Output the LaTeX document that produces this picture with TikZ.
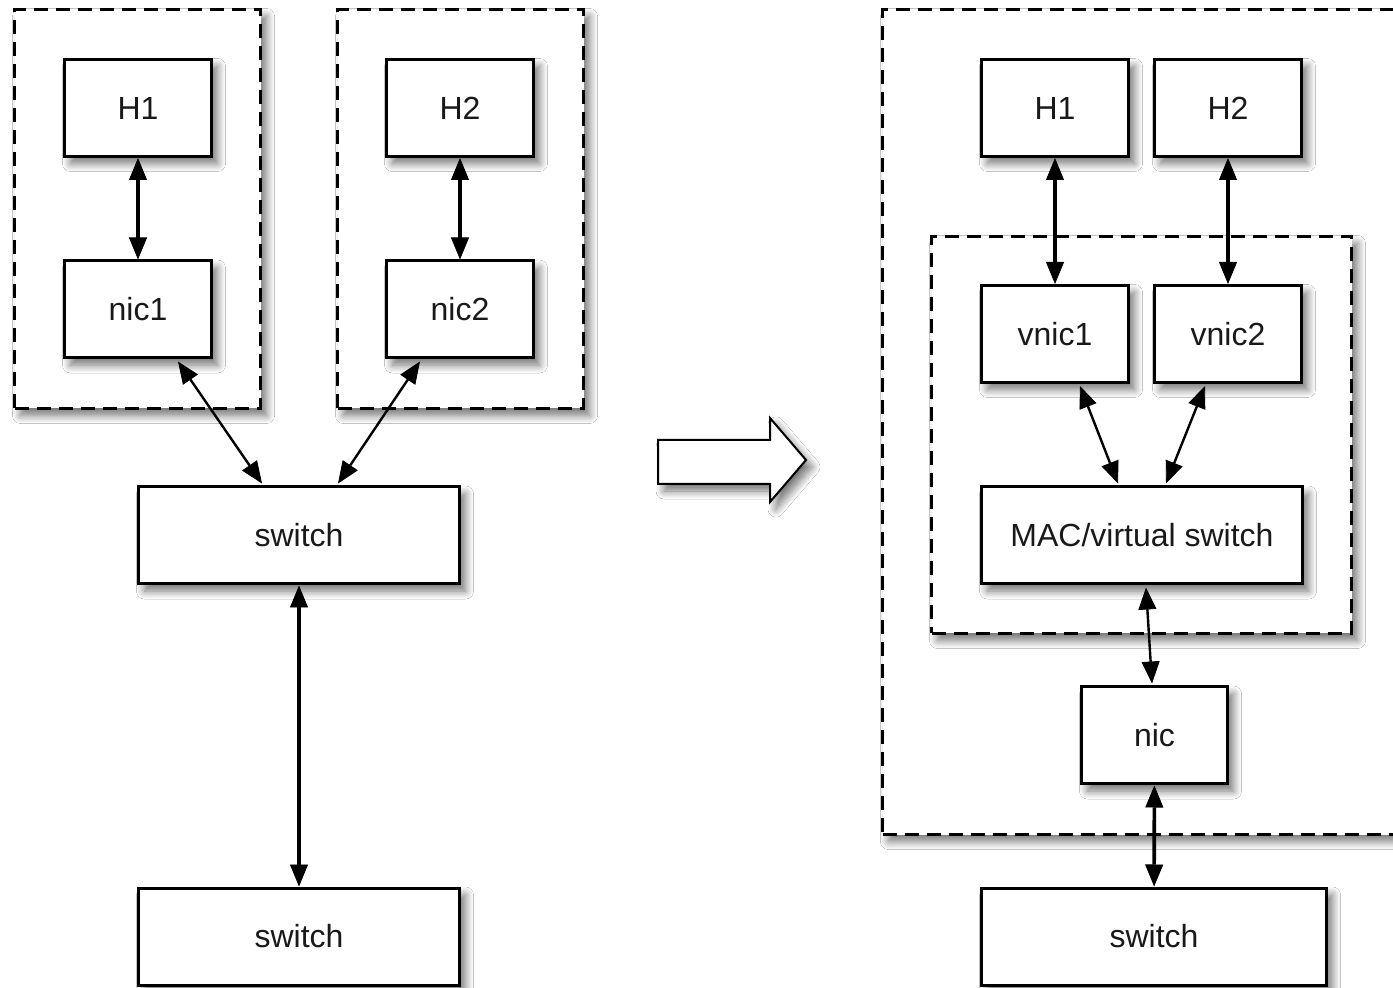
\documentclass[tikz,border=0pt]{standalone}
\usepackage{fontspec}
\setmainfont{Liberation Sans}
\usetikzlibrary{arrows.meta,shadows.blur,calc}
\begin{document}
\begin{tikzpicture}[x=0.5pt,y=-0.5pt,
  sh/.style={blur shadow={shadow xshift=3pt,shadow yshift=-3.5pt,
      shadow blur radius=4pt,shadow blur steps=12,shadow opacity=55}},
  box/.style={draw,line width=1.5pt,fill=white,sh,inner sep=0pt,
      minimum width=73.5pt,minimum height=48.5pt,
      font=\fontsize{16}{18}\selectfont,text=black!90},
  group/.style={draw,line width=1.5pt,dash pattern=on 7pt off 4pt,
      fill=white,sh,inner sep=0pt},
  tip/.tip={Triangle[length=11pt,width=9pt,fill=black,line width=0.4pt]},
  arr/.style={line width=1.8pt,tip-tip},
  darr/.style={line width=1.2pt,tip-tip}
]
\useasboundingbox (0,0) rectangle (1393,988);
\fill[white] (0,0) rectangle (1393,988);
\clip (0,0) rectangle (1393,988);

% ---- left: two hosts, each with its own nic, joined by a switch
\node[group,minimum width=123pt,minimum height=199.5pt] (hostA) at (137.5,209) {};
\node[group,minimum width=123pt,minimum height=199.5pt] (hostB) at (460.5,209) {};

\node[box] (h1l)  at (138,108)   {H1};
\node[box] (nic1) at (138,309.5) {nic1};
\node[box] (h2l)  at (460,108)   {H2};
\node[box] (nic2) at (460,309.5) {nic2};
\node[box,minimum width=160.5pt] (sw1) at (299,535.5) {switch};
\node[box,minimum width=160.5pt] (sw2) at (299,936.5) {switch};

\draw[arr] (h1l) -- (nic1);
\draw[arr] (h2l) -- (nic2);
\draw[darr] ($(nic1.south)+(40,2)$) -- ($(sw1.north)+(-37,-2)$);
\draw[darr] ($(nic2.south)+(-40,2)$) -- ($(sw1.north)+(39,-2)$);
\draw[arr] (sw1) -- (sw2);

% ---- transition arrow
\draw[line width=1pt,fill=white,sh]
  (658,440) -- (770,440) -- (770,418) -- (806,460) -- (770,502)
  -- (770,484) -- (658,484) -- cycle;

% ---- right: one host, virtual nics behind a MAC/virtual switch
\node[group,minimum width=268pt,minimum height=412.5pt] (host) at (1150.5,422) {};
\node[group,minimum width=210pt,minimum height=198.5pt] (virt) at (1141.5,435) {};

\node[box] (h1r)   at (1055,108) {H1};
\node[box] (h2r)   at (1228,108) {H2};
\node[box] (vnic1) at (1055,334) {vnic1};
\node[box] (vnic2) at (1228,334) {vnic2};
\node[box,minimum width=160.5pt] (mac) at (1142,535.5) {MAC/virtual switch};
\node[box,minimum width=73pt] (nic) at (1154.5,735.5) {nic};
\node[box,minimum width=172.5pt] (swr) at (1154,936.5) {switch};

\draw[arr] (h1r) -- (vnic1);
\draw[arr] (h2r) -- (vnic2);
\draw[darr] ($(vnic1.south)+(25,2)$) -- ($(mac.north)+(-24,-2)$);
\draw[darr] ($(vnic2.south)+(-23,2)$) -- ($(mac.north)+(24,-2)$);
\draw[darr] ($(mac.south)+(4,2)$) -- ($(nic.north)+(-2.5,-2)$);
\draw[arr] (nic) -- (swr);
\end{tikzpicture}
\end{document}
